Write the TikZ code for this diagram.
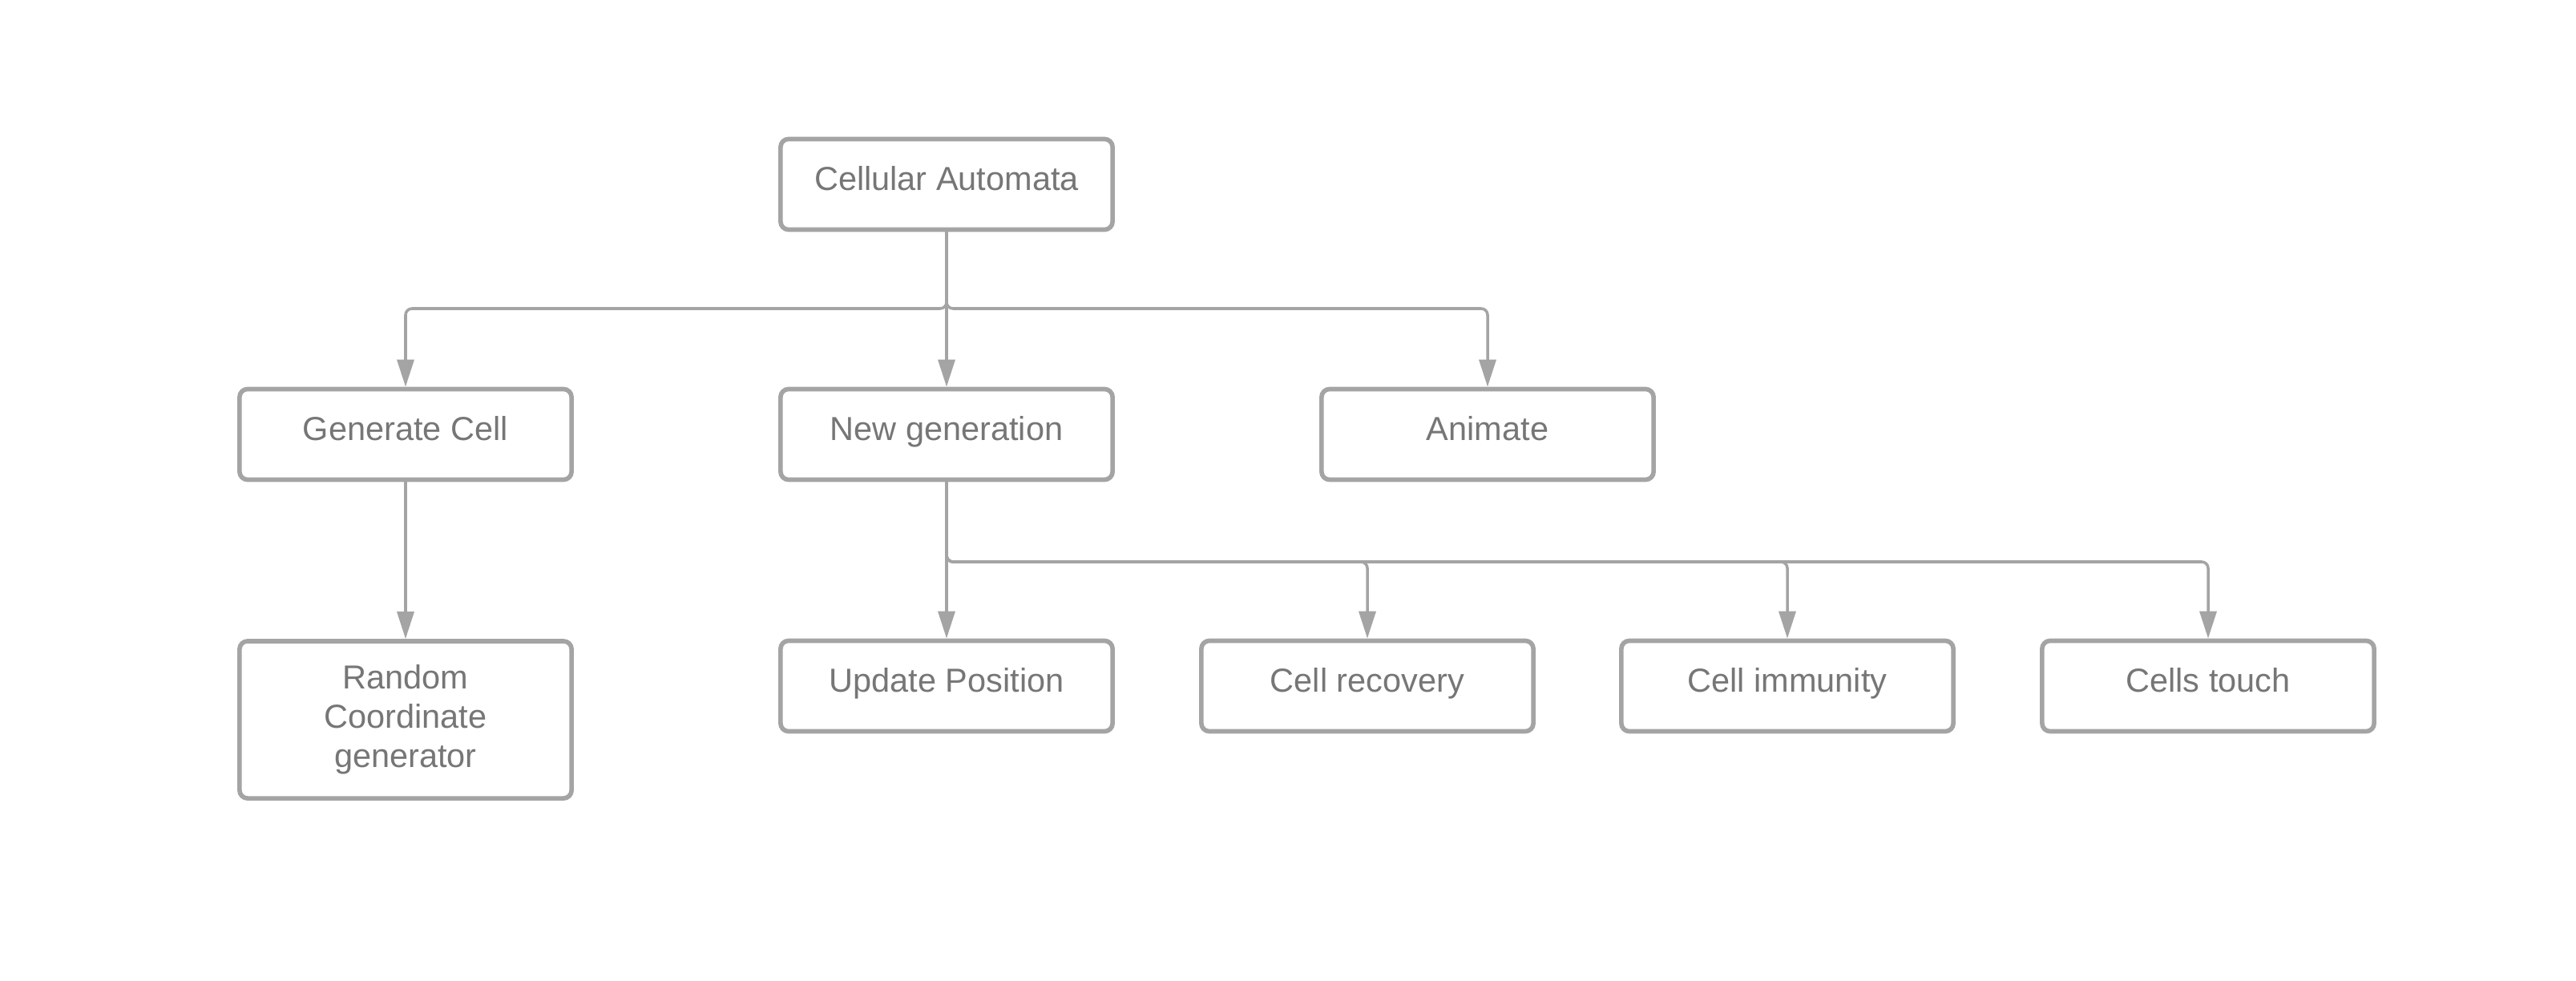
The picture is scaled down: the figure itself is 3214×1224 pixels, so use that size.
\documentclass[tikz,border=0pt]{standalone}
\usepackage{fontspec}
\setmainfont{Liberation Sans}
\usetikzlibrary{arrows.meta,positioning}

% 颜色定义
\definecolor{linegray}{RGB}{164,164,164}
\definecolor{textgray}{RGB}{118,118,118}

\tikzset{
  boxbase/.style={draw=linegray, line width=1.6pt, rounded corners=0.1cm,
    fill=white, minimum width=4.14cm, text=textgray, inner sep=0pt,
    font=\fontsize{11.8}{14}\selectfont},
  box/.style={boxbase, minimum height=1.13cm, text height=8.5pt, text depth=4.3pt},
  tallbox/.style={boxbase, minimum height=1.96cm, align=center},
  link/.style={draw=linegray, line width=1pt, rounded corners=0.08cm,
    -{Triangle[length=0.34cm,width=0.21cm]}}
}

\begin{document}
\begin{tikzpicture}[x=0.01cm, y=-0.01cm]
      % 画布大小(与原图比例一致)
      \useasboundingbox (0,0) rectangle (3214,1224);

      % 第一层
      \node[box] (ca) at (1181,230) {Cellular Automata};

      % 第二层
      \node[box] (gc) at (506,542)  {Generate Cell};
      \node[box] (ng) at (1181,542) {New generation};
      \node[box] (an) at (1856,542) {Animate};

      % 第三层
      \node[tallbox] (rc) at (506,898) {Random\\Coordinate\\generator};
      \node[box] (up) at (1181,856) {Update Position};
      \node[box] (cr) at (1706,856) {Cell recovery};
      \node[box] (ci) at (2230,856) {Cell immunity};
      \node[box] (ct) at (2755,856) {Cells touch};

      % 分支点
      \coordinate (j1) at (1181,385);
      \coordinate (j2) at (1181,701);

      % 连线
      \draw[link] (ca.south) -- (j1) -| (gc.north);
      \draw[link] (ca.south) -- (ng.north);
      \draw[link] (ca.south) -- (j1) -| (an.north);
      \draw[link] (gc.south) -- (rc.north);
      \draw[link] (ng.south) -- (up.north);
      \foreach \n in {cr,ci,ct}
          \draw[link] (ng.south) -- (j2) -| (\n.north);
\end{tikzpicture}
\end{document}
